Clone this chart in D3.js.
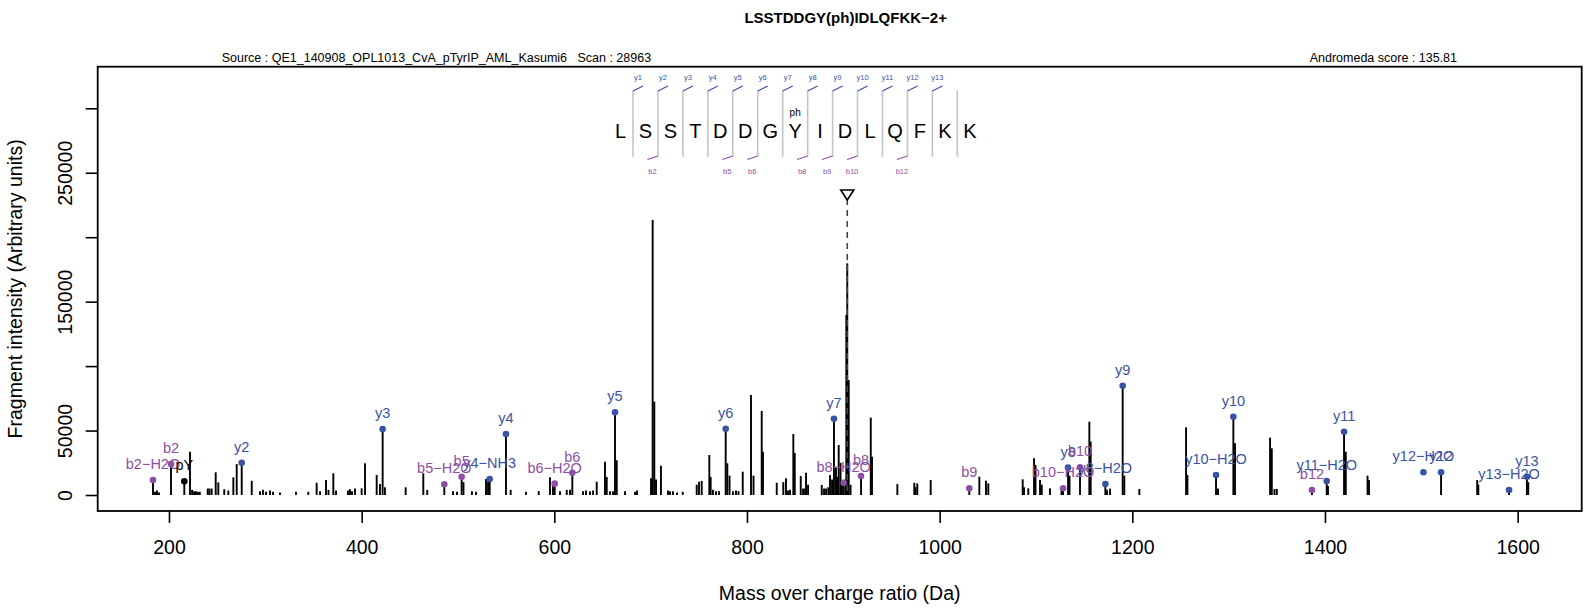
<!DOCTYPE html>
<html><head><meta charset="utf-8">
<script src="https://cdn.jsdelivr.net/npm/d3@7"></script>
<style>body{margin:0;background:#fff}svg{display:block}</style>
</head><body>
<svg id="chart" width="1596" height="611"></svg>
<script>
// ---------------- data ----------------
const titleText = "LSSTDDGY(ph)IDLQFKK\u22122+";
const sourceText = "Source : QE1_140908_OPL1013_CvA_pTyrIP_AML_Kasumi6   Scan : 28963";
const scoreText = "Andromeda score : 135.81";
const xLabel = "Mass over charge ratio (Da)";
const yLabel = "Fragment intensity (Arbitrary units)";
const xTicks = [200, 400, 600, 800, 1000, 1200, 1400, 1600];
const yTicks = [0, 50000, 100000, 150000, 200000, 250000, 300000];
const yTickLabels = [0, 50000, 150000, 250000];

const peakMz = [183.4,185.5,187.5,189.6,202.1,215.9,221.8,224,226,228,230,232,240.2,242,244.3,248.5,251.2,257.4,261.6,266.8,270.3,275.5,285.9,294.5,297.6,300.7,304.9,308,315.2,331.8,344.6,353.3,356.8,363,365.6,370.6,373.4,385.8,387.9,390,393.1,400,403.5,415.6,419,421.8,424.2,
445.7,464,468.1,485.8,494.8,499,503.8,505.7,514.5,518.7,529.1,531.2,532.9,549.8,554.7,570.6,583.8,595.5,598.6,600.4,605.9,612.9,616.3,618.7,629.8,632.9,637,640.2,644,652.6,654.4,657.8,660.9,663,664.8,673.4,683.8,685.9,
700.4,701.4,702.1,703.8,705.6,710.7,718,720.1,723.2,727.4,733.3,747.8,750.2,753,760.9,762.3,764.7,767.8,770.9,777.9,779.6,781.9,785.5,788.6,791.2,795.6,804.2,806.8,815.3,816.6,830.9,837.7,840.5,842.6,844.7,848.1,849.6,855.8,858.2,860.3,861.3,863.4,877.6,880,882.1,884.4,886.2,888.3,890.3,892.4,893.6,895.2,897.1,898.6,900.4,902.3,903.1,904.1,905.6,907.5,918.4,928.5,929.8,956.1,973.7,975,976.8,990.7,
1030.8,1041.2,1048.1,1050.5,1086.2,1087.6,1092,1098,1099.5,1104.2,1106,1114.5,1126.5,1128.1,1133.3,1134.8,1145.7,1155.4,1156.8,1172,1173.7,1176.9,1190,1191.7,1207.3,1255.8,1257.2,1286.9,1289,1304.9,1306.6,1343,1344.8,1347.6,1350,1386.5,1401.8,1403.1,1419.8,1421.6,1444.2,1445.7,1520.5,1558,1559.2,1591.1,1609.6,1611];
const peakIntensity = [11640,2500,3500,2000,24050,10600,33600,4000,3000,3000,2500,2500,5000,5000,5000,17600,9800,4500,3500,13700,24000,25000,11000,3000,4000,2500,3500,2500,2000,2500,2500,9500,3000,11600,4000,16800,3500,3500,4500,3000,5000,5200,24600,15500,8500,51200,6000,
6000,16800,4000,8300,3000,2500,14200,10000,3000,2500,12400,10000,12400,47300,4000,2500,3000,13700,7000,8800,3000,4000,4000,17300,3000,3500,3000,3500,10300,25800,14000,3000,3000,64100,27000,3000,2500,3500,
13000,5000,213300,72400,12000,22700,3500,3000,3000,2000,2500,8000,10300,10900,31000,14000,4000,3000,3000,51400,24600,15000,3000,3500,3000,18100,77600,15000,65200,33600,9500,10000,12900,3500,4000,47300,32600,14700,5000,5000,17300,8000,7800,5000,5000,6000,15500,12000,59200,22000,14000,38800,25000,10000,9500,12000,139600,179700,89200,8000,14700,60000,29700,8500,9500,6000,9000,11600,
5200,14200,11100,9000,12200,6000,5200,28500,23300,11600,8000,5200,4000,5200,21200,15000,21500,56900,41400,8500,4000,5000,84800,15000,4700,52500,15500,15500,5000,60700,40100,44500,36200,4700,4700,3900,10900,7000,49100,33600,15000,11600,17600,11600,8000,3900,14200,10000];

const annotLabel = ["y2","y3","y4\u2212NH3","y4","y5","y6","y7","y8","y8\u2212H2O","y9","y10\u2212H2O","y10","y11\u2212H2O","y11","y12\u2212H2O","y12","y13\u2212H2O","y13",
  "b2\u2212H2O","b2","b5\u2212H2O","b5","b6\u2212H2O","b6","b8\u2212H2O","b8","b9","b10\u2212H2O","b10","b12","pY"];
const annotMz = [275.5,421.8,532.9,549.8,663,777.9,890.3,1133.3,1172,1190,1286.9,1304.9,1401.8,1419.8,1502.2,1520.5,1591.1,1609.6,
  183.4,202.1,485.8,503.8,600.4,618.7,900.4,918.4,1030.8,1128.1,1145.7,1386.5,215.9];
const annotIntensity = [25000,51200,12400,47300,64100,51400,59200,21200,8500,84800,15500,60700,10900,49100,17600,17600,3900,14200,
  11640,24050,8300,14200,8800,17300,9500,14700,5200,5200,21500,3900,10600];
const annotType = ["y","y","y","y","y","y","y","y","y","y","y","y","y","y","y","y","y","y",
  "b","b","b","b","b","b","b","b","b","b","b","b","p"];

const residues = ["L","S","S","T","D","D","G","Y","I","D","L","Q","F","K","K"];
const yIonSites = [1,2,3,4,5,6,7,8,9,10,11,12,13];
const bIonSites = [2,5,6,8,9,10,12];
const modSite = 7;
const modLabel = "ph";
const precursorMz = 904.1;

// ---------------- layout ----------------
const W = 1596, H = 611;
const L = 97.7, R = 1581.7, T = 66.7, B = 511;
const FONT = "'Liberation Sans', Arial, Helvetica, sans-serif";
const colors = {y: "#3953a4", b: "#8c4fa6", p: "#000000"};

const svg = d3.select("#chart").style("font-family", FONT);
svg.append("rect").attr("width", W).attr("height", H).attr("fill", "#fff");

const x = d3.scaleLinear().domain([126, 1666.5]).range([L, R]);
const y = d3.scaleLinear().domain([-12413, 332270]).range([B, T]);

// peaks
const peaks = peakMz.map((m, i) => ({m, v: peakIntensity[i]}));
svg.append("g").selectAll("line").data(peaks).join("line")
  .attr("x1", d => x(d.m)).attr("x2", d => x(d.m))
  .attr("y1", y(0)).attr("y2", d => y(d.v))
  .attr("stroke", "#000").attr("stroke-width", 1.9);

// precursor marker
const px = x(precursorMz);
svg.append("line").attr("x1", px).attr("x2", px).attr("y1", 199).attr("y2", y(0))
  .attr("stroke", "#444").attr("stroke-width", 1.6).attr("stroke-dasharray", "6,5");
svg.append("path").attr("d", `M${px-6.5},190 L${px+6.5},190 L${px},200 Z`)
  .attr("fill", "#fff").attr("stroke", "#000").attr("stroke-width", 1.6);

// annotations
const ann = annotMz.map((m, i) => ({m, v: annotIntensity[i], label: annotLabel[i], type: annotType[i]}));
const ag = svg.append("g");
ag.selectAll("circle").data(ann).join("circle")
  .attr("cx", d => x(d.m)).attr("cy", d => y(d.v)).attr("r", 3.3)
  .attr("fill", d => colors[d.type]);
ag.selectAll("text").data(ann).join("text")
  .attr("x", d => x(d.m)).attr("y", d => y(d.v) - 11)
  .attr("text-anchor", "middle").attr("font-size", 14.5)
  .attr("fill", d => colors[d.type]).text(d => d.label);

// axes
const xAxis = svg.append("g").attr("transform", `translate(0,${B})`)
  .call(d3.axisBottom(x).tickValues(xTicks).tickSize(12).tickSizeOuter(0).tickFormat(d3.format("d")));
xAxis.select(".domain").remove();
xAxis.selectAll(".tick line").attr("stroke-width", 1.6);
xAxis.selectAll(".tick text").attr("y", 43).attr("dy", 0).attr("font-size", 19.5)
  .attr("font-family", FONT).attr("fill", "#000");

const yAxis = svg.append("g").attr("transform", `translate(${L},0)`)
  .call(d3.axisLeft(y).tickValues(yTicks).tickSize(12).tickSizeOuter(0)
    .tickFormat(d => yTickLabels.includes(d) ? String(d) : ""));
yAxis.select(".domain").remove();
yAxis.selectAll(".tick line").attr("stroke-width", 1.6);
yAxis.selectAll(".tick text").attr("x", 0).attr("dy", 0).attr("text-anchor", "middle")
  .attr("transform", "translate(-26,0) rotate(-90)")
  .attr("font-size", 19.5).attr("font-family", FONT).attr("fill", "#000");

// box
svg.append("rect").attr("x", L).attr("y", T).attr("width", R - L).attr("height", B - T)
  .attr("fill", "none").attr("stroke", "#000").attr("stroke-width", 1.8);

// axis titles
svg.append("text").attr("x", (L + R) / 2).attr("y", 600).attr("text-anchor", "middle")
  .attr("font-size", 19.5).text(xLabel);
svg.append("text").attr("transform", `translate(21.5,${(T + B) / 2}) rotate(-90)`)
  .attr("text-anchor", "middle").attr("font-size", 19.5).text(yLabel);

// header
svg.append("text").attr("x", (L + R) / 2 + 6).attr("y", 23).attr("text-anchor", "middle")
  .attr("font-size", 15).attr("font-weight", "bold").text(titleText);
svg.append("text").attr("x", 221.7).attr("y", 62).attr("font-size", 12.5)
  .style("white-space", "pre").text(sourceText);
svg.append("text").attr("x", 1457).attr("y", 62).attr("text-anchor", "end")
  .attr("font-size", 12.5).text(scoreText);

// peptide sequence diagram
const seqX0 = 620.5, seqStep = 24.95;
const sq = svg.append("g");
sq.selectAll("text.res").data(residues).join("text").attr("class", "res")
  .attr("x", (d, i) => seqX0 + i * seqStep).attr("y", 137.5)
  .attr("text-anchor", "middle").attr("font-size", 20).text(d => d);
const seps = d3.range(1, residues.length);
const sepX = i => seqX0 + (i - 0.5) * seqStep;
sq.selectAll("line.sep").data(seps).join("line").attr("class", "sep")
  .attr("x1", sepX).attr("x2", sepX).attr("y1", 90.7).attr("y2", 156.7)
  .attr("stroke", "#c4c4c4").attr("stroke-width", 1.6);
sq.selectAll("line.yi").data(yIonSites).join("line").attr("class", "yi")
  .attr("x1", sepX).attr("x2", d => sepX(d) + 10).attr("y1", 91).attr("y2", 86)
  .attr("stroke", colors.y).attr("stroke-width", 1.2);
sq.selectAll("text.yi").data(yIonSites).join("text").attr("class", "yi")
  .attr("x", d => sepX(d) + 5).attr("y", 79.5).attr("text-anchor", "middle")
  .attr("font-size", 7.5).attr("fill", colors.y).text(d => "y" + d);
sq.selectAll("line.bi").data(bIonSites).join("line").attr("class", "bi")
  .attr("x1", sepX).attr("x2", d => sepX(d) - 10.5).attr("y1", 156).attr("y2", 159.5)
  .attr("stroke", colors.b).attr("stroke-width", 1.2);
sq.selectAll("text.bi").data(bIonSites).join("text").attr("class", "bi")
  .attr("x", d => sepX(d) - 5.5).attr("y", 173.5).attr("text-anchor", "middle")
  .attr("font-size", 7.5).attr("fill", colors.b).text(d => "b" + d);
sq.append("text").attr("x", seqX0 + modSite * seqStep).attr("y", 115.5)
  .attr("text-anchor", "middle").attr("font-size", 10).text(modLabel);
</script>
</body></html>
